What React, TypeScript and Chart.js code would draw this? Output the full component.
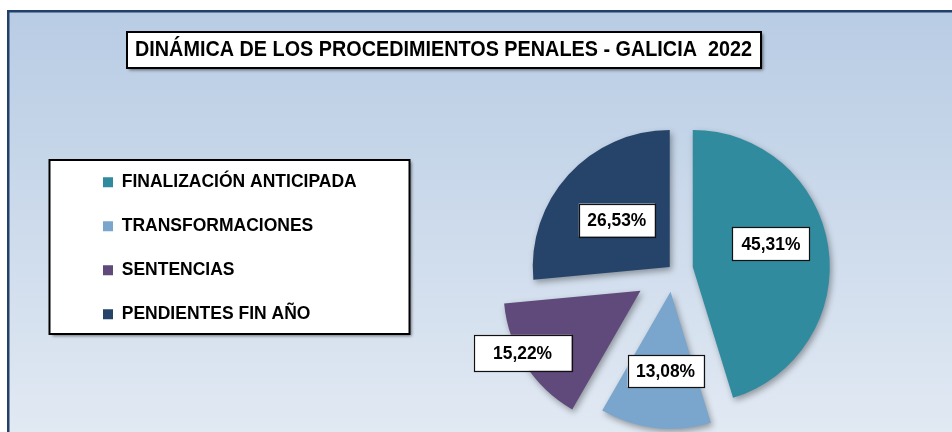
import React, { useEffect, useRef } from "react";
import { Chart, registerables } from "chart.js";

Chart.register(...registerables);

// ---- data ----
const titleText = "DINÁMICA DE LOS PROCEDIMIENTOS PENALES - GALICIA  2022";
const categories = [
  "FINALIZACIÓN ANTICIPADA",
  "TRANSFORMACIONES",
  "SENTENCIAS",
  "PENDIENTES FIN AÑO",
];
const shares = [45.31, 13.08, 15.22, 26.53];

// ---- style ----
const sliceColors = ["#318b9f", "#7aa5cd", "#604a7b", "#264469"];
const explode = [20, 22, 38.6, 4.4];
const labelDist = [81.5, 79.4, 133.3, 70.7];
const labelShiftDeg = [-7.9, -2.8, 5.0, -0.8];
const labelBoxW = [77, 76, 98, 76];
const labelBoxH = [33, 32, 36, 33];
const FONT = "'Liberation Sans', Arial, Helvetica, sans-serif";

const fmt = (v: number) => v.toFixed(2).replace(".", ",") + "%";

const decorPlugin = {
  id: "decor",
  afterLayout(chart: any) {
    const t = chart.titleBlock;
    if (t) {
      // text is fitted (horizontally condensed) into this span
      t.left = 135;
      t.right = 752;
      t.top = 37;
      t.bottom = 63;
      t.width = t.right - t.left;
      t.height = t.bottom - t.top;
    }
    const lg = chart.legend;
    if (lg) {
      lg.left = 76.5;
      lg.top = 147;
      lg.right = 420;
      lg.bottom = 428;
      lg.width = lg.right - lg.left;
      lg.height = lg.bottom - lg.top;
    }
  },
  beforeDraw(chart: any) {
    const ctx = chart.ctx as CanvasRenderingContext2D;
    const W = chart.width;
    const H = chart.height;
    ctx.save();
    // frame background
    const g = ctx.createLinearGradient(0, 10, 0, H);
    g.addColorStop(0, "#b8cce4");
    g.addColorStop(1, "#e1e9f3");
    ctx.fillStyle = g;
    ctx.fillRect(7, 10, W - 7, H - 10);
    ctx.fillStyle = "#22406a";
    ctx.fillRect(7, 10, W - 7, 2.5);
    ctx.fillRect(7, 10, 2.5, H - 10);

    // title box
    const t = chart.titleBlock;
    if (t) {
      const cx = (t.left + t.right) / 2;
      const bw = 634;
      const bh = 36;
      const bx = Math.round(cx - bw / 2);
      const by = Math.round((t.top + t.bottom) / 2 - 18);
      ctx.save();
      ctx.shadowColor = "rgba(0,0,0,0.55)";
      ctx.shadowBlur = 3;
      ctx.shadowOffsetX = 2;
      ctx.shadowOffsetY = 2;
      ctx.fillStyle = "#ffffff";
      ctx.fillRect(bx, by, bw, bh);
      ctx.restore();
      ctx.lineWidth = 2;
      ctx.strokeStyle = "#000000";
      ctx.strokeRect(bx, by, bw, bh);
    }
    // legend box
    const lg = chart.legend;
    if (lg) {
      const bx = lg.left - 27;
      const by = lg.top + 13;
      const bw = 360;
      const bh = 174;
      ctx.save();
      ctx.shadowColor = "rgba(0,0,0,0.5)";
      ctx.shadowBlur = 3;
      ctx.shadowOffsetX = 2;
      ctx.shadowOffsetY = 2;
      ctx.fillStyle = "#ffffff";
      ctx.fillRect(bx, by, bw, bh);
      ctx.restore();
      ctx.lineWidth = 2;
      ctx.strokeStyle = "#000000";
      ctx.strokeRect(bx, by, bw, bh);
    }
    ctx.restore();
  },
  afterDatasetsUpdate(chart: any) {
    const meta = chart.getDatasetMeta(0);
    meta.data.forEach((arc: any, i: number) => {
      const mid = (arc.startAngle + arc.endAngle) / 2;
      const d = explode[i] || 0;
      arc.x += Math.cos(mid) * d;
      arc.y += Math.sin(mid) * d;
    });
  },
  beforeDatasetsDraw(chart: any) {
    const ctx = chart.ctx as CanvasRenderingContext2D;
    ctx.save();
    ctx.shadowColor = "rgba(0,0,0,0.35)";
    ctx.shadowBlur = 6;
    ctx.shadowOffsetX = 2;
    ctx.shadowOffsetY = 3;
  },
  afterDatasetsDraw(chart: any) {
    const ctx = chart.ctx as CanvasRenderingContext2D;
    ctx.restore();
    const meta = chart.getDatasetMeta(0);
    const values = chart.data.datasets[0].data as number[];
    ctx.save();
    ctx.font = `bold 18px ${FONT}`;
    ctx.textAlign = "center";
    ctx.textBaseline = "middle";
    meta.data.forEach((arc: any, i: number) => {
      const mid = (arc.startAngle + arc.endAngle) / 2 + (labelShiftDeg[i] * Math.PI) / 180;
      const cx = arc.x + Math.cos(mid) * labelDist[i];
      const cy = arc.y + Math.sin(mid) * labelDist[i];
      const w = labelBoxW[i];
      const h = labelBoxH[i];
      ctx.fillStyle = "#ffffff";
      ctx.fillRect(cx - w / 2, cy - h / 2, w, h);
      ctx.lineWidth = 1.2;
      ctx.strokeStyle = "#111111";
      ctx.strokeRect(Math.round(cx - w / 2) + 0.5, Math.round(cy - h / 2) + 0.5, w, h);
      ctx.fillStyle = "#000000";
      ctx.fillText(fmt(values[i]), cx, cy + 1, 59);
    });
    ctx.restore();
  },
};

export default function App() {
  const canvasRef = useRef<HTMLCanvasElement | null>(null);

  useEffect(() => {
    const canvas = canvasRef.current;
    if (!canvas) return;
    const chart = new Chart(canvas, {
      type: "pie",
      data: {
        labels: categories,
        datasets: [
          {
            data: shares,
            backgroundColor: sliceColors,
            borderWidth: 0,
            radius: 137,
          } as any,
        ],
      },
      options: {
        responsive: false,
        animation: false,
        devicePixelRatio: 1,
        events: [],
        layout: {
          padding: { left: 540, right: 146, top: 111, bottom: 29 },
        },
        plugins: {
          title: {
            display: true,
            text: titleText,
            color: "#000000",
            padding: 0,
            font: { family: FONT, size: 21.5, weight: "bold", lineHeight: 1.2 },
          },
          legend: {
            display: true,
            position: "chartArea",
            align: "start",
            labels: {
              color: "#000000",
              boxWidth: 10,
              boxHeight: 10,
              padding: 26.5,
              font: { family: FONT, size: 17.5, weight: "bold" },
            },
          },
          tooltip: { enabled: false },
        },
      } as any,
      plugins: [decorPlugin],
    });
    return () => chart.destroy();
  }, []);

  return (
    <div style={{ position: "absolute", left: 0, top: 0, width: 952, height: 432 }}>
      <canvas ref={canvasRef} width={952} height={432} style={{ display: "block" }} />
    </div>
  );
}
